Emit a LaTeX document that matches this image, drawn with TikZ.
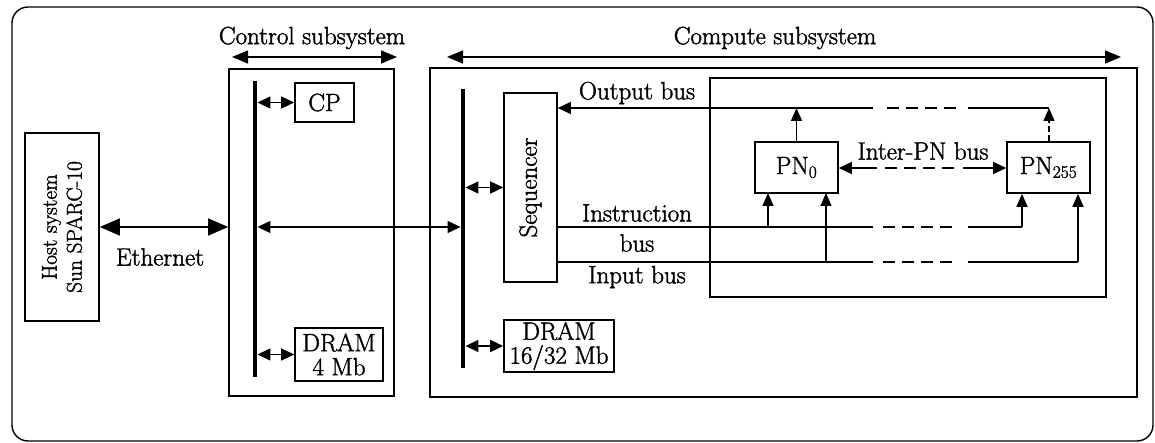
\documentclass[tikz,border=0pt]{standalone}
\usepackage{fontspec}
\setmainfont{Latin Modern Roman}[FakeBold=1.6]
\usetikzlibrary{arrows.meta}
\tikzset{
  blk/.style={draw, line width=1.6pt, inner sep=0pt, align=center},
  busbar/.style={fill=black, draw=none, minimum width=4.5pt, inner sep=0pt},
  conn/.style={line width=1.4pt, {Triangle[length=13pt,width=12pt]}-{Triangle[length=13pt,width=12pt]}},
  uparr/.style={line width=1.4pt, -{Triangle[length=13pt,width=11pt]}},
  brokenbus/.style={line width=1.4pt, dash pattern=on 12pt off 7pt},
  lbl/.style={inner sep=0pt, font=\fontsize{25}{27}\selectfont}
}
\begin{document}
\begin{tikzpicture}[x=1pt, y=-1pt, font=\fontsize{25}{27}\selectfont]
\useasboundingbox (0,0) rectangle (1155,443);

% outer frame
\draw[line width=1.4pt, rounded corners=16pt] (12,7) rectangle (1153,441);

% host
\node[blk, minimum width=74pt, minimum height=188pt] (host) at (62,227) {};
\node[lbl, rotate=90, align=center, font=\fontsize{21.5}{25}\selectfont] (hosttxt) at (host.center) {Host system\\Sun SPARC-10};

% control subsystem
\node[blk, minimum width=165pt, minimum height=327pt] (ctrl) at (311.5,232.5) {};
\node[busbar, minimum height=296pt] (cbus) at (255,229) {};
\node[blk, minimum width=59pt, minimum height=39pt] (cp) at (324.5,102.5) {CP};
\node[blk, minimum width=88pt, minimum height=53pt] (dramA) at (339,354.5) {DRAM\\[-3pt]4 Mb};

% compute subsystem
\node[blk, minimum width=707pt, minimum height=329pt] (comp) at (783.5,232.5) {};
\node[busbar, minimum height=279pt] (xbus) at (463,228.5) {};
\node[blk, minimum width=53pt, minimum height=189pt] (seq) at (530.5,187.5) {};
\node[lbl, rotate=90] (seqtxt) at (seq.center) {Sequencer};
\node[blk, minimum width=110pt, minimum height=52pt] (dramB) at (559,346) {DRAM\\[-3pt]16/32 Mb};
\node[draw, line width=1.4pt, minimum width=396pt, minimum height=219pt, inner sep=0pt] (pnarr) at (908,187.5) {};
\node[blk, minimum width=83pt, minimum height=51pt] (pn0) at (796.5,167.5) {PN\textsubscript{0}};
\node[blk, minimum width=83pt, minimum height=51pt] (pnN) at (1048.5,167.5) {PN\textsubscript{255}};

% span arrows above the subsystems
\coordinate (csL) at (232,57);
\coordinate (csR) at (397,57);
\coordinate (xsL) at (447,57);
\coordinate (xsR) at (1121,57);
\draw[line width=1.4pt, {Triangle[length=16pt,width=13pt]}-{Triangle[length=16pt,width=13pt]}] (csL) -- (csR);
\draw[line width=1.4pt, {Triangle[length=16pt,width=13pt]}-{Triangle[length=16pt,width=13pt]}] (xsL) -- (xsR);
\node[lbl] (cstxt) at (312,38) {Control subsystem};
\node[lbl] (xstxt) at (775,38) {Compute subsystem};

% ethernet link
\draw[line width=1.6pt, {Triangle[length=20pt,width=17pt]}-{Triangle[length=20pt,width=17pt]}] (host.east) -- (host.east -| ctrl.west);
\node[lbl] (ethtxt) at (160,257) {Ethernet};

% control bus attachments
\draw[conn] (cbus.east |- cp.west) -- (cp.west);
\draw[conn] (cbus.east |- dramA.west) -- (dramA.west);
\draw[conn, line width=1.1pt] (cbus.east |- host.east) -- (xbus.west |- host.east);

% compute bus attachments
\draw[conn] (xbus.east |- seq.west) -- (seq.west);
\draw[conn] (xbus.east |- dramB.west) -- (dramB.west);

% break points of the PN buses
\coordinate (bL) at (873,0);
\coordinate (bR) at (968,0);
\coordinate (ob) at (1049,108);
\coordinate (ib) at (1022,227);
\coordinate (inb) at (1078,262);

% output bus
\draw[uparr] (pn0.north) -- (pn0.north |- ob);
\draw[uparr, dash pattern=on 6pt off 3pt] (pnN.north -| ob) -- (ob);
\draw[line width=1.4pt] (ob) -- (bR |- ob);
\draw[brokenbus] ([xshift=-12pt]bR |- ob) -- ([xshift=10pt]bL |- ob);
\draw[line width=1.4pt, -{Triangle[length=13pt,width=12pt]}] (bL |- ob) -- (seq.east |- ob);
\node[lbl] (obtxt) at (637,93) {Output bus};

% inter-PN bus
\coordinate (ipL) at (877,168);
\coordinate (ipR) at (963,168);
\draw[line width=1.4pt, -{Triangle[length=13pt,width=12pt]}] (ipL) -- (pn0.east |- ipL);
\draw[line width=1.4pt, -{Triangle[length=13pt,width=12pt]}] (ipR) -- (pnN.west |- ipR);
\draw[brokenbus] ([xshift=8pt]ipL) -- ([xshift=-2pt]ipR);
\node[lbl] (iptxt) at (923,151) {Inter-PN bus};

% instruction bus
\draw[line width=1.4pt] (seq.east |- ib) -- (bL |- ib);
\draw[brokenbus] ([xshift=10pt]bL |- ib) -- ([xshift=-12pt]bR |- ib);
\draw[line width=1.4pt] (bR |- ib) -- (ib);
\draw[uparr] (ib) -- (ib |- pnN.south);
\draw[uparr] (768,227) -- (768,193);
\node[lbl] (ibtxt1) at (637,213) {Instruction};
\node[lbl] (ibtxt2) at (637,243) {bus};

% input bus
\draw[line width=1.4pt] (seq.east |- inb) -- (bL |- inb);
\draw[brokenbus] ([xshift=10pt]bL |- inb) -- ([xshift=-12pt]bR |- inb);
\draw[line width=1.4pt] (bR |- inb) -- (inb);
\draw[uparr] (inb) -- (inb |- pnN.south);
\draw[uparr] (826,262) -- (826,193);
\node[lbl] (inbtxt) at (637,277) {Input bus};
\end{tikzpicture}
\end{document}
